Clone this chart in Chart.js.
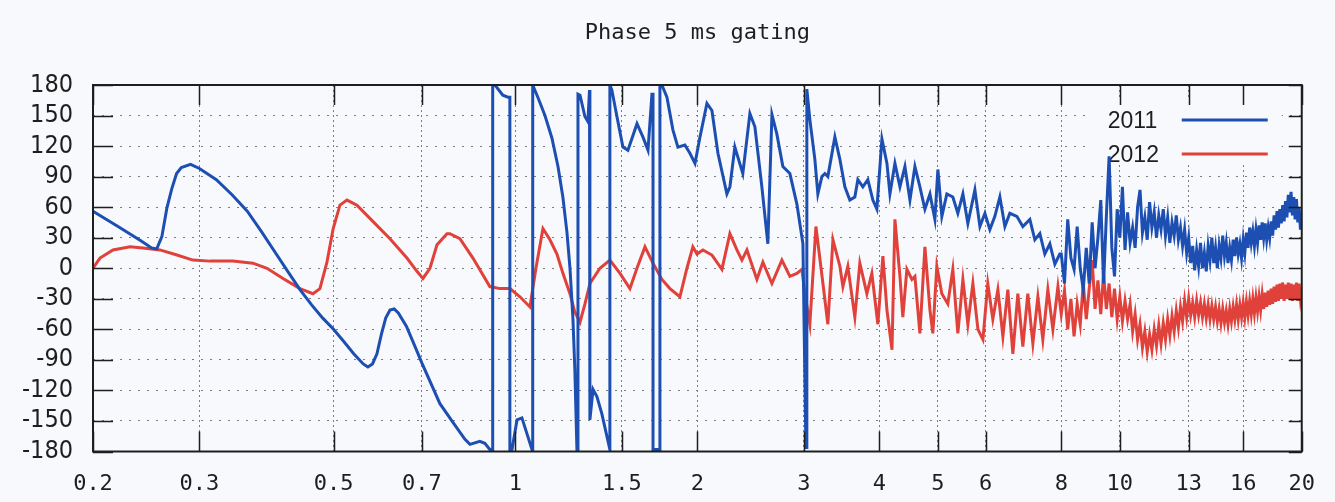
<!DOCTYPE html>
<html>
<head>
<meta charset="utf-8">
<script src="https://cdn.jsdelivr.net/npm/chart.js@4.4.0/dist/chart.umd.min.js"></script>
<style>
  html, body { margin: 0; padding: 0; background: #f8f9fc; }
  #wrap { width: 1335px; height: 502px; }
</style>
</head>
<body>
<div id="wrap"><canvas id="c" width="1335" height="502"></canvas></div>
<script>
// ---------------- DATA ----------------
const titleText = 'Phase 5 ms gating';
const seriesLabels = ['2011', '2012'];
const xTickValues = [0.2, 0.3, 0.5, 0.7, 1, 1.5, 2, 3, 4, 5, 6, 8, 10, 13, 16, 20];
const yTickValues = [-180, -150, -120, -90, -60, -30, 0, 30, 60, 90, 120, 150, 180];

// 2011, 0.2 - 8 Hz (frequency, phase in degrees)
const freq2011Low = [0.2,0.22,0.24,0.25,0.255,0.26,0.265,0.27,0.275,0.28,
  0.29,0.3,0.32,0.34,0.36,0.38,0.4,0.42,0.44,0.46,
  0.48,0.5,0.52,0.54,0.56,0.57,0.58,0.59,0.6,0.61,
  0.62,0.63,0.64,0.66,0.68,0.7,0.75,0.785,0.825,0.841,
  0.873,0.89,0.907,0.917,0.917,0.925,0.953,0.972,0.979,0.979,
  0.987,1.006,1.025,1.065,1.068,1.068,1.089,1.119,1.149,1.176,
  1.198,1.217,1.231,1.245,1.254,1.264,1.269,1.269,1.279,1.303,
  1.318,1.326,1.328,1.328,1.344,1.364,1.39,1.433,1.433,1.444,
  1.472,1.506,1.535,1.589,1.625,1.657,1.682,1.689,1.689,1.721,
  1.734,1.734,1.747,1.781,1.822,1.857,1.907,1.944,1.982,2.02,
  2.074,2.114,2.163,2.238,2.264,2.307,2.378,2.443,2.49,2.557,
  2.616,2.657,2.707,2.77,2.845,2.922,2.99,3.024,3.035,3.035,
  3.07,3.129,3.165,3.214,3.251,3.288,3.377,3.442,3.508,3.575,
  3.644,3.686,3.757,3.829,3.903,3.963,4.04,4.118,4.165,4.245,
  4.327,4.41,4.495,4.581,4.669,4.759,4.851,4.943,5,5.076,
  5.174,5.293,5.395,5.5,5.605,5.757,5.868,5.981,6.095,6.212,
  6.332,6.454,6.577,6.755,6.911,7.098,7.235,7.374,7.515,7.66,
  7.808,7.955];
const phase2011Low = [56,41,27,20,19,31,59,78,93,99,
  102,98,87,72,56,36,16,-3,-21,-36,
  -49,-60,-72,-84,-94,-97,-94,-84,-65,-49,
  -41,-40,-44,-57,-75,-93,-133,-150,-168,-173,
  -170,-172,-178,-178,180,180,170,168,168,-178,
  -178,-149,-147,-178,-178,180,168,150,128,100,
  70,35,0,-50,-100,-178,-178,171,170,149,
  144,175,175,-149,-119,-126,-143,-178,180,175,
  149,119,116,142,129,116,171,171,-178,-178,
  -178,180,180,168,136,119,121,113,103,129,
  162,155,113,73,80,119,93,152,139,80,
  24,151,132,100,93,63,24,-176,-176,176,
  146,107,73,90,93,90,129,107,80,67,
  70,87,80,87,67,58,127,103,73,103,
  80,100,67,100,80,58,73,48,97,51,
  73,70,54,73,44,77,41,54,38,51,
  70,41,54,51,41,48,28,34,14,24,
  4,14];

// 2012, 0.2 - 8 Hz
const freq2012Low = [0.2,0.2054,0.2158,0.2303,0.2419,0.2581,0.2754,0.2926,0.3123,0.3408,
  0.3678,0.3881,0.4125,0.44,0.4624,0.4748,0.4877,0.4994,0.5124,0.5263,
  0.5467,0.5809,0.62,0.6614,0.6871,0.703,0.722,0.7416,0.7704,0.779,
  0.8094,0.8505,0.907,0.9427,0.9793,1.0172,1.0568,1.0812,1.1105,1.1405,
  1.1713,1.1983,1.2308,1.254,1.2788,1.3032,1.3281,1.3798,1.4332,1.4893,
  1.5469,1.5888,1.6379,1.6887,1.7474,1.8015,1.8713,1.9219,1.966,1.997,
  2.0427,2.1142,2.1961,2.2637,2.3251,2.37,2.4155,2.509,2.567,2.6566,
  2.7598,2.845,2.922,2.9785,3.0124,3.07,3.1417,3.2268,3.288,3.352,
  3.442,3.482,3.548,3.644,3.714,3.815,3.888,3.978,4.055,4.118,
  4.198,4.245,4.327,4.375,4.443,4.529,4.581,4.669,4.759,4.851,
  4.905,4.98,5.076,5.193,5.293,5.395,5.5,5.605,5.713,5.824,
  5.936,6.047,6.164,6.284,6.405,6.527,6.653,6.781,6.911,7.043,
  7.18,7.318,7.458,7.602,7.749,7.899];
const phase2012Low = [0,10,18,21,20,18,13,8,7,7,
  5,0,-10,-20,-25,-20,6,39,62,67,
  62,46,29,10,-3,-10,0,23,34,34,
  29,10,-18,-20,-20,-28,-38,0,39,28,
  14,-5,-25,-43,-53,-35,-15,0,8,-5,
  -20,0,21,5,-11,-20,-28,0,21,14,
  18,13,-1,34,18,8,18,-11,6,-15,
  8,-8,-5,-1,-25,-55,41,-15,-55,28,
  2,-18,2,-48,5,-25,-5,-55,12,-41,
  -80,48,-8,-48,-1,-11,-8,-64,21,-41,
  -64,2,-25,-35,-1,-64,-11,-55,-15,-60,
  -70,-15,-50,-21,-67,-21,-84,-25,-77,-25,
  -74,-28,-70,-21,-60,-18];

// 8 - 20 Hz, shared frequency list for the noisy band
const freqHigh = [8,8.1,8.2,8.3,8.4,8.5,8.6,8.7,8.8,8.9,
  9,9.1,9.2,9.3,9.4,9.5,9.6,9.7,9.8,9.9,
  10,10.1,10.2,10.3,10.4,10.5,10.6,10.7,10.8,10.9,
  11,11.1,11.2,11.3,11.4,11.5,11.6,11.7,11.8,11.9,
  12,12.1,12.2,12.3,12.4,12.5,12.6,12.7,12.8,12.9,
  13,13.1,13.2,13.3,13.4,13.5,13.6,13.7,13.8,13.9,
  14,14.1,14.2,14.3,14.4,14.5,14.6,14.7,14.8,14.9,
  15,15.1,15.2,15.3,15.4,15.5,15.6,15.7,15.8,15.9,
  16,16.1,16.2,16.3,16.4,16.5,16.6,16.7,16.8,16.9,
  17,17.1,17.2,17.3,17.4,17.5,17.6,17.7,17.8,17.9,
  18,18.1,18.2,18.3,18.4,18.5,18.6,18.7,18.8,18.9,
  19,19.1,19.2,19.3,19.4,19.5,19.6,19.7,19.8,19.9,
  20];
const phase2011High = [14,-15,48,10,-1,41,0,-21,20,-15,
  45,0,30,67,-15,51,110,20,-8,58,
  30,80,18,55,25,40,20,60,77,35,
  50,28,65,40,55,30,52,38,58,32,
  50,25,45,32,52,28,40,22,38,15,
  30,5,22,-2,18,2,25,0,15,-3,
  22,8,30,5,20,0,22,10,32,12,
  25,5,20,8,28,12,30,14,24,10,
  28,15,35,20,40,25,36,22,38,25,
  42,28,45,30,44,28,40,30,46,32,
  52,38,56,40,58,44,62,46,66,50,
  72,55,75,52,70,48,68,45,60,38,
  50];
const phase2012High = [-45,-22,-60,-30,-67,-35,-55,-15,-50,-20,
  8,-40,-12,-45,-5,-40,-15,-48,-20,-50,
  -28,-52,-32,-50,-35,-62,-45,-70,-55,-78,
  -62,-82,-65,-80,-60,-76,-56,-74,-54,-70,
  -50,-66,-47,-62,-42,-58,-38,-52,-32,-48,
  -30,-46,-34,-48,-32,-46,-34,-48,-35,-49,
  -36,-50,-37,-50,-38,-52,-40,-54,-40,-53,
  -42,-55,-40,-52,-38,-50,-36,-50,-36,-48,
  -34,-48,-33,-46,-32,-45,-30,-44,-29,-42,
  -28,-41,-26,-40,-24,-38,-22,-36,-20,-35,
  -18,-33,-16,-32,-15,-30,-14,-32,-16,-30,
  -14,-31,-15,-32,-16,-30,-14,-32,-15,-30,
  -20];

// ---------------- BUILD ----------------
const BLUE = '#1d4fb3';
const RED = '#e0413a';
const INK = '#1e1e1e';
const GRID = '#7d7d7d';

function toPoints(fs, ps) { return fs.map((f, i) => ({ x: f, y: ps[i] })); }
const data2011 = toPoints(freq2011Low, phase2011Low).concat(toPoints(freqHigh, phase2011High));
const data2012 = toPoints(freq2012Low, phase2012Low).concat(toPoints(freqHigh, phase2012High));

const framePlugin = {
  id: 'frame',
  afterDatasetsDraw(chart) {
    const { ctx, chartArea: a, scales } = chart;
    ctx.save();
    ctx.strokeStyle = INK;
    ctx.lineWidth = 1.5;
    ctx.setLineDash([]);
    xTickValues.forEach(v => {
      const px = Math.round(scales.x.getPixelForValue(v)) + 0.5;
      ctx.beginPath();
      ctx.moveTo(px, a.bottom); ctx.lineTo(px, a.bottom - 20);
      ctx.moveTo(px, a.top); ctx.lineTo(px, a.top + 20);
      ctx.stroke();
    });
    yTickValues.forEach(v => {
      const py = Math.round(scales.y.getPixelForValue(v)) + 0.5;
      ctx.beginPath();
      ctx.moveTo(a.left, py); ctx.lineTo(a.left + 20, py);
      ctx.moveTo(a.right, py); ctx.lineTo(a.right - 13, py);
      ctx.stroke();
    });
    ctx.lineWidth = 2;
    ctx.strokeRect(a.left, a.top, a.right - a.left, a.bottom - a.top);
    ctx.restore();
  }
};

const legendPlugin = {
  id: 'sideLegend',
  beforeDatasetsDraw(chart) {
    const { ctx, chartArea: a } = chart;
    const ds = chart.data.datasets;
    ctx.save();
    ctx.fillStyle = '#f8f9fc';
    ctx.fillRect(a.right - 210, a.top + 14, 190, 66);
    ctx.font = '23px "Liberation Sans", Arial, sans-serif';
    ctx.textBaseline = 'middle';
    ctx.textAlign = 'left';
    ds.forEach((d, i) => {
      const y = a.top + 36 + i * 34;
      ctx.fillStyle = INK;
      ctx.fillText(d.label, a.right - 194, y + 1);
      ctx.strokeStyle = d.borderColor;
      ctx.lineWidth = 3;
      ctx.beginPath();
      ctx.moveTo(a.right - 120, y - 1);
      ctx.lineTo(a.right - 34, y - 1);
      ctx.stroke();
    });
    ctx.restore();
  }
};

new Chart(document.getElementById('c'), {
  type: 'line',
  data: {
    datasets: [
      { label: seriesLabels[0], data: data2011, borderColor: BLUE, backgroundColor: BLUE,
        borderWidth: 3, pointRadius: 0, tension: 0, fill: false },
      { label: seriesLabels[1], data: data2012, borderColor: RED, backgroundColor: RED,
        borderWidth: 3, pointRadius: 0, tension: 0, fill: false }
    ]
  },
  options: {
    responsive: false,
    animation: false,
    events: [],
    layout: { padding: { left: 0, right: 33, top: 0, bottom: 0 } },
    plugins: {
      legend: { display: false },
      tooltip: { enabled: false },
      title: {
        display: true,
        fullSize: false,
        text: titleText,
        color: INK,
        font: { family: '"DejaVu Sans Mono", monospace', size: 22, weight: 'normal' },
        padding: { top: 20, bottom: 38.6 }
      }
    },
    scales: {
      x: {
        type: 'logarithmic',
        min: 0.2,
        max: 20,
        afterBuildTicks: (s) => { s.ticks = xTickValues.map(v => ({ value: v })); },
        afterFit: (s) => { s.height = 50.5; },
        ticks: {
          autoSkip: false,
          maxRotation: 0,
          padding: 20,
          color: INK,
          font: { family: '"DejaVu Sans Mono", monospace', size: 22 },
          callback: (v) => String(v)
        },
        grid: { color: GRID, lineWidth: 1, drawTicks: false },
        border: { display: false, dash: [2, 3] }
      },
      y: {
        min: -180,
        max: 180,
        afterBuildTicks: (s) => { s.ticks = yTickValues.map(v => ({ value: v })); },
        afterFit: (s) => { s.width = 93; },
        ticks: {
          autoSkip: false,
          padding: 20,
          color: INK,
          font: { family: '"Liberation Sans Narrow", "DejaVu Sans Condensed", sans-serif', size: 25 },
          callback: (v) => String(v)
        },
        grid: { color: GRID, lineWidth: 1, drawTicks: false },
        border: { display: false, dash: [2, 7] }
      }
    }
  },
  plugins: [legendPlugin, framePlugin]
});
</script>
</body>
</html>
